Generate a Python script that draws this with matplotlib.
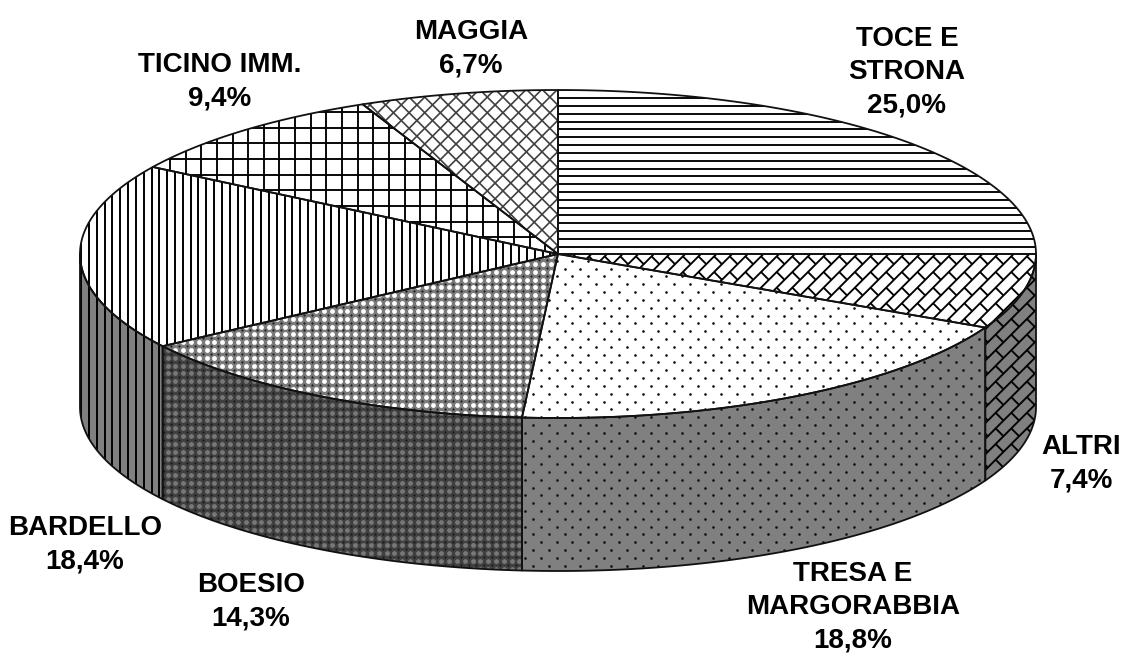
import numpy as np
import matplotlib
matplotlib.use("Agg")
import matplotlib.pyplot as plt
from matplotlib.collections import LineCollection
from matplotlib.patches import Polygon

# clockwise from twelve o'clock
NAMES = ["TOCE E\nSTRONA", "ALTRI", "TRESA E\nMARGORABBIA", "BOESIO", "BARDELLO", "TICINO IMM.", "MAGGIA"]
VALUES = [25.0, 7.4, 18.8, 14.3, 18.4, 9.4, 6.7]
PATTERNS = ["hlines", "brick", "dots", "fine", "vlines", "grid", "diamond"]
LABEL_X = [907, 1081, 853, 251, 85, 220, 471]
LABEL_Y = [72, 464, 607, 602, 545, 82, 49]

W, H = 1124, 653
CX, CY = 558, 254
RX, RY = 478, 164
DEPTH = 153
STEP = 7.82
EDGE = "#111111"


def arc(t0, t1, drop=0):
    t = np.radians(np.linspace(t0, t1, 200))
    return np.column_stack([CX + RX * np.sin(t), CY + drop - RY * np.cos(t)])


def clipped_lines(ax, clip, segs, color, lw):
    lc = LineCollection(segs, colors=color, linewidths=lw, capstyle="butt")
    ax.add_collection(lc)
    lc.set_clip_path(clip)


def clipped_dots(ax, clip, xy, color, size):
    pts = ax.scatter(xy[:, 0], xy[:, 1], s=size, c=color, linewidths=0, marker="o")
    pts.set_clip_path(clip)


def lattice(x0, y0, period, staggered=False):
    # regular grid of points over the whole canvas, optionally every other one
    nx, ny = int(W / period) + 2, int(H / period) + 2
    i, j = np.meshgrid(np.arange(nx), np.arange(ny))
    if staggered:
        keep = (i + j) % 2 == 0
        i, j = i[keep], j[keep]
    return np.column_stack([x0 % period + i.ravel() * period - period,
                            y0 % period + j.ravel() * period - period])


def draw_pattern(ax, clip, kind, side):
    ink = "black"
    T = 2 * STEP
    if kind == "hlines":
        ys = np.arange(106 % STEP, H, STEP)
        clipped_lines(ax, clip, [[(0, y), (W, y)] for y in ys], ink, 1.35)
    elif kind == "vlines":
        xs = np.arange(89 % STEP, W, STEP)
        clipped_lines(ax, clip, [[(x, 0), (x, H)] for x in xs], ink, 1.4)
    elif kind == "grid":
        xs = np.arange(342 % T, W, T)
        ys = np.arange(143.3 % T, H, T)
        segs = [[(x, 0), (x, H)] for x in xs] + [[(0, y), (W, y)] for y in ys]
        clipped_lines(ax, clip, segs, ink, 1.35)
    elif kind == "diamond":
        # crossings sit on 456, 112.7 and repeat every T
        segs = []
        for k in range(-60, 140):
            a = 456 - 112.7 + k * T
            b = 456 + 112.7 + (k - 30) * T
            segs.append([(a, 0), (a + H, H)])
            segs.append([(b, 0), (b - H, H)])
        clipped_lines(ax, clip, segs, "#404040", 1.2)
    elif kind == "fine":
        blob = "#787878" if side else "white"
        clipped_dots(ax, clip, lattice(308.3, 350, STEP), blob, 12.0)
        clipped_dots(ax, clip, lattice(308.3 + STEP / 2, 350 + STEP / 2, STEP), "#1a1a1a", 2.5)
    elif kind == "brick":
        segs = []
        for k in range(0, 130):
            a = 1252 % T + k * T
            segs.append([(a, 0), (a - H, H)])
        for x, y in lattice(980, 272, T):
            segs.append([(x, y), (x + T / 2, y + T / 2)])
        clipped_lines(ax, clip, segs, ink, 1.35)
    elif kind == "dots":
        clipped_dots(ax, clip, lattice(1.54, 2.7, STEP, staggered=True), "#101010", 3.6)


def add_face(ax, outline, fill, kind, side):
    face = Polygon(outline, closed=True, facecolor=fill, edgecolor="none", zorder=1)
    ax.add_patch(face)
    draw_pattern(ax, face, kind, side)
    rim = Polygon(outline, closed=True, fill=False, edgecolor=EDGE, linewidth=1.3,
                  joinstyle="round", zorder=4)
    ax.add_patch(rim)


def main():
    plt.rcParams["font.family"] = ["Liberation Sans", "DejaVu Sans"]
    fig = plt.figure(figsize=(W / 100, H / 100), dpi=100, facecolor="white")
    ax = fig.add_axes([0, 0, 1, 1])
    ax.set_xlim(0, W)
    ax.set_ylim(H, 0)
    ax.axis("off")

    stops = np.concatenate([[0], np.cumsum(VALUES)]) / sum(VALUES) * 360

    # rim first, only the part of each slice facing the viewer
    for i, kind in enumerate(PATTERNS):
        t0, t1 = max(stops[i], 90), min(stops[i + 1], 270)
        if t1 <= t0:
            continue
        outline = np.vstack([arc(t0, t1), arc(t1, t0, DEPTH)])
        add_face(ax, outline, "#404040" if kind == "fine" else "#808080", kind, True)

    for i, kind in enumerate(PATTERNS):
        outline = np.vstack([[(CX, CY)], arc(stops[i], stops[i + 1])])
        add_face(ax, outline, "#7a7a7a" if kind == "fine" else "white", kind, False)

    for name, value, x, y in zip(NAMES, VALUES, LABEL_X, LABEL_Y):
        pct = f"{value:.1f}%".replace(".", ",")
        ax.text(x, y, f"{name}\n{pct}", ha="center", va="center", fontsize=20,
                fontweight="bold", linespacing=1.37, color="black", zorder=6)

    fig.savefig("out.png", dpi=100)


if __name__ == "__main__":
    main()
